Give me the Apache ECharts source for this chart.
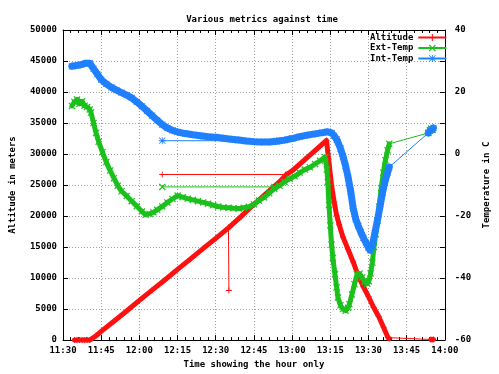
<!DOCTYPE html>
<html>
<head>
<meta charset="utf-8">
<script src="https://cdn.jsdelivr.net/npm/echarts@6/dist/echarts.min.js"></script>
<style>html,body{margin:0;padding:0;background:#fff}#c{width:499px;height:374px}</style>
</head>
<body>
<div id="c"></div>
<script>
// ---------- data ----------
const xTicks = ['11:30','11:45','12:00','12:15','12:30','12:45','13:00','13:15','13:30','13:45','14:00'];

const altTimes = ['11:34:30','11:35:30','11:36:30','11:37:30','11:38:30','11:39:30','11:40:30','11:43:00','11:45:00','11:50:00','11:55:00','12:00:00','12:05:00','12:10:00','12:15:00','12:20:00','12:25:00','12:30:00','12:35:00','12:40:00','12:45:00','12:50:00','12:55:00','12:57:30','13:00:00','13:05:00','13:10:00','13:13:30','13:14:20','13:15:30','13:16:30','13:17:30','13:18:30','13:20:00','13:22:00','13:24:00','13:26:00','13:28:00','13:30:00','13:32:00','13:34:00','13:36:00','13:37:40','13:38:10','13:54:30','13:55:00','13:55:30'];
const altValues = [0,0,0,0,0,0,0,700,1400,3050,4700,6400,8050,9700,11400,13050,14750,16400,18100,19950,21900,23700,25500,26600,27300,29100,30900,32200,29200,25000,22300,20100,18600,16600,14600,12600,10300,8600,7000,5300,3800,2000,400,250,100,50,80];

const extTimes = ['11:33:30','11:34:30','11:35:30','11:36:30','11:37:30','11:38:30','11:39:30','11:40:30','11:41:00','11:42:00','11:43:00','11:44:00','11:45:30','11:47:00','11:48:30','11:50:00','11:51:30','11:53:00','11:55:00','11:57:00','11:59:00','12:01:00','12:02:30','12:04:00','12:05:30','12:07:00','12:09:00','12:11:00','12:13:00','12:15:00','12:17:00','12:19:00','12:21:00','12:23:00','12:25:00','12:27:00','12:29:00','12:31:00','12:33:00','12:35:00','12:37:00','12:39:00','12:41:00','12:43:00','12:45:00','12:47:00','12:49:00','12:51:00','12:53:00','12:55:00','12:57:00','12:59:00','13:01:00','13:03:00','13:05:00','13:07:00','13:09:00','13:11:00','13:13:00','13:13:40','13:14:00','13:14:30','13:15:00','13:15:30','13:16:00','13:16:50','13:17:30','13:18:00','13:19:00','13:20:00','13:21:00','13:22:00','13:22:30','13:23:30','13:24:30','13:25:30','13:26:30','13:27:30','13:28:30','13:29:30','13:30:10','13:30:50','13:31:30','13:32:10','13:32:50','13:33:30','13:34:10','13:35:00','13:35:50','13:36:40','13:37:30','13:38:10','13:53:30','13:54:10','13:54:40','13:55:10'];
const extValues = [15.5,16.8,17.6,16.2,17.0,15.6,15.2,14.4,13.4,10.0,6.8,4.0,0.6,-2.6,-5.3,-7.8,-10.2,-12.0,-13.5,-15.2,-16.8,-18.5,-19.6,-19.3,-18.8,-18.0,-16.9,-15.6,-14.5,-13.4,-13.9,-14.4,-14.8,-15.2,-15.6,-16.0,-16.5,-16.9,-17.2,-17.3,-17.5,-17.6,-17.3,-17.0,-16.2,-15.0,-14.0,-12.6,-11.2,-10.2,-9.0,-8.0,-7.2,-6.0,-5.0,-4.3,-3.2,-2.2,-1.0,-5.0,-9.0,-16.4,-23.0,-29.2,-33.5,-38.8,-43.0,-46.3,-48.8,-50.0,-50.5,-49.6,-48.4,-45.3,-42.0,-38.8,-38.6,-39.8,-41.2,-41.8,-41.0,-38.5,-35.0,-30.0,-25.8,-21.5,-17.0,-11.0,-6.0,-2.0,1.2,3.3,6.8,7.6,8.0,7.8];

const intTimes = ['11:33:30','11:35:00','11:37:00','11:39:00','11:40:30','11:42:00','11:43:30','11:45:00','11:47:00','11:49:00','11:51:00','11:53:00','11:55:00','11:57:00','11:59:00','12:01:00','12:03:00','12:05:00','12:07:00','12:09:00','12:11:00','12:13:00','12:15:00','12:18:00','12:21:00','12:24:00','12:27:00','12:30:00','12:33:00','12:36:00','12:39:00','12:42:00','12:45:00','12:48:00','12:51:00','12:54:00','12:57:00','13:00:00','13:03:00','13:06:00','13:09:00','13:12:00','13:14:00','13:15:30','13:16:30','13:17:30','13:18:00','13:19:00','13:20:00','13:21:00','13:22:00','13:23:00','13:24:00','13:25:00','13:26:00','13:27:00','13:28:00','13:29:00','13:30:00','13:30:40','13:31:30','13:32:30','13:33:30','13:34:30','13:35:30','13:36:30','13:37:30','13:38:10','13:53:30','13:54:10','13:54:40','13:55:10','13:55:30'];
const intValues = [28.3,28.5,28.8,29.3,29.3,27.5,25.8,24.0,22.6,21.5,20.6,19.8,19.0,18.1,16.8,15.4,13.9,12.4,10.9,9.5,8.4,7.6,7.1,6.6,6.2,5.9,5.6,5.4,5.1,4.8,4.5,4.2,4.0,3.9,3.9,4.1,4.5,5.0,5.6,6.1,6.5,6.9,7.2,6.8,5.9,4.7,3.8,1.8,-0.8,-3.8,-7.5,-12.0,-17.5,-21.0,-23.2,-25.2,-27.0,-28.6,-30.2,-31.0,-29.5,-25.5,-21.5,-17.0,-12.5,-8.8,-6.0,-4.2,6.8,7.6,8.2,7.9,8.4];

// stray records (clock glitch at 12:09 and an altitude drop-out at 12:35)
const altGlitchTimes = ['12:57:30','12:09:00'];
const altGlitchValues = [26700,26700];
const altSpikeTimes = ['12:35:00','12:35:10'];
const altSpikeValues = [18100,8000];
const extGlitchTimes = ['12:53:00','12:09:00'];
const extGlitchValues = [-10.6,-10.6];
const intGlitchTimes = ['12:54:00','12:09:00'];
const intGlitchValues = [4.3,4.3];

// ---------- helpers ----------
function toMin(s){const p=s.split(':').map(Number);return p[0]*60+p[1]+(p[2]||0)/60;}
function pairs(ts,vs){return ts.map((t,i)=>[toMin(t),vs[i]]);}
function chunks(d){const out=[];let cur=[d[0]];for(let i=1;i<d.length;i++){if(d[i][0]-d[i-1][0]>5){out.push(cur);cur=[];}cur.push(d[i]);}out.push(cur);return out;}
const xMin = toMin(xTicks[0]), xMax = toMin(xTicks[xTicks.length-1]);
function fmt(v){const h=Math.floor(v/60),m=Math.round(v-h*60);return h+':'+(m<10?'0':'')+m;}

const RED='#ff1010', GREEN='#1cc01c', BLUE='#2080ff';
const PLUS='path://M4.3,0H5.7V4.3H10V5.7H5.7V10H4.3V5.7H0V4.3H4.3Z';
const CROSS='path://M0,1.2L1.2,0L5,3.8L8.8,0L10,1.2L6.2,5L10,8.8L8.8,10L5,6.2L1.2,10L0,8.8L3.8,5Z';
const STAR='path://M4.4,0H5.6V4.4H10V5.6H5.6V10H4.4V5.6H0V4.4H4.4ZM1,0.2L5,4.2L9,0.2L9.8,1L5.8,5L9.8,9L9,9.8L5,5.8L1,9.8L0.2,9L4.2,5L0.2,1Z';
const FONT='DejaVu Sans Mono';

const defs = [
  {name:'Altitude', color:RED, sym:PLUS, size:6, band:5, yi:0, main:pairs(altTimes,altValues),
   extra:[pairs(altGlitchTimes,altGlitchValues), pairs(altSpikeTimes,altSpikeValues)], z:2},
  {name:'Ext-Temp', color:GREEN, sym:CROSS, size:7, band:5, yi:1, main:pairs(extTimes,extValues),
   extra:[pairs(extGlitchTimes,extGlitchValues)], z:5},
  {name:'Int-Temp', color:BLUE, sym:STAR, size:7, band:7, yi:1, main:pairs(intTimes,intValues),
   extra:[pairs(intGlitchTimes,intGlitchValues)], z:8}
];

const series=[];
defs.forEach(d=>{
  series.push({name:d.name,type:'line',xAxisIndex:0,yAxisIndex:d.yi,data:d.main,z:d.z+1,clip:false,
    symbol:d.sym,symbolSize:d.size,showSymbol:true,
    lineStyle:{color:d.color,width:1},itemStyle:{color:d.color},animation:false});
});
defs.forEach(d=>{
  chunks(d.main).forEach(c=>{
    series.push({name:d.name,type:'line',xAxisIndex:0,yAxisIndex:d.yi,data:c,z:d.z,clip:false,
      symbol:'none',lineStyle:{color:d.color,width:d.band,cap:'round',join:'round'},animation:false,silent:true});
  });
  d.extra.forEach(e=>{
    series.push({name:d.name,type:'line',xAxisIndex:0,yAxisIndex:d.yi,data:e,z:d.z,clip:false,
      symbol:d.sym,symbolSize:d.size,lineStyle:{color:d.color,width:1},itemStyle:{color:d.color},animation:false});
  });
});

const txt={color:'#000',fontFamily:FONT,fontSize:9,fontWeight:'bold'};
const AX='#000';
const grid={left:59,right:43,top:30,bottom:31};

const chart=echarts.init(document.getElementById('c'),null,{renderer:'canvas'});
chart.setOption({
  animation:false,
  backgroundColor:'#fff',
  title:{text:'Various metrics against time',left:257,top:10,textAlign:'center',
    textStyle:Object.assign({},txt)},
  legend:{data:defs.map(d=>d.name),orient:'vertical',left:370,top:33,padding:0,align:'right',
    itemWidth:28,itemHeight:9,itemGap:1.5,textStyle:Object.assign({},txt),selectedMode:false},
  grid:grid,
  xAxis:[
    {type:'value',position:'bottom',min:xMin,max:xMax,interval:15,
     name:'Time showing the hour only',nameLocation:'middle',nameGap:19,nameTextStyle:Object.assign({},txt),
     axisLine:{onZero:false,lineStyle:{color:AX,width:1}},
     axisTick:{inside:true,length:5,lineStyle:{color:AX}},
     minorTick:{show:true,splitNumber:5,length:3,lineStyle:{color:AX}},
     axisLabel:Object.assign({formatter:fmt,margin:6},txt),
     splitLine:{show:true,lineStyle:{color:'#a0a0a0',type:[1,2],width:1}}},
    {type:'value',position:'top',min:xMin,max:xMax,interval:15,
     axisLine:{onZero:false,lineStyle:{color:AX,width:1}},
     axisTick:{inside:true,length:5,lineStyle:{color:AX}},
     minorTick:{show:true,splitNumber:5,length:3,lineStyle:{color:AX}},
     axisLabel:{show:false},splitLine:{show:false}}
  ],
  yAxis:[
    {type:'value',position:'left',min:0,max:50000,interval:5000,
     name:'Altitude in meters',nameLocation:'middle',nameGap:46,nameRotate:90,nameTextStyle:Object.assign({},txt),
     axisLine:{show:true,onZero:false,lineStyle:{color:AX,width:1}},
     axisTick:{show:true,inside:true,length:5,lineStyle:{color:AX}},
     axisLabel:Object.assign({margin:6,formatter:v=>String(v)},txt),
     splitLine:{show:true,lineStyle:{color:'#a0a0a0',type:[1,2],width:1}}},
    {type:'value',position:'right',min:-60,max:40,interval:10,
     name:'Temperature in C',nameLocation:'middle',nameGap:35,nameRotate:90,nameTextStyle:Object.assign({},txt),
     axisLine:{show:true,onZero:false,lineStyle:{color:AX,width:1}},
     axisTick:{show:true,inside:true,length:5,lineStyle:{color:AX}},
     axisLabel:Object.assign({margin:10,formatter:v=>(v%20===0?String(v):'')},txt),
     splitLine:{show:false}}
  ],
  series:series
});
</script>
</body>
</html>
